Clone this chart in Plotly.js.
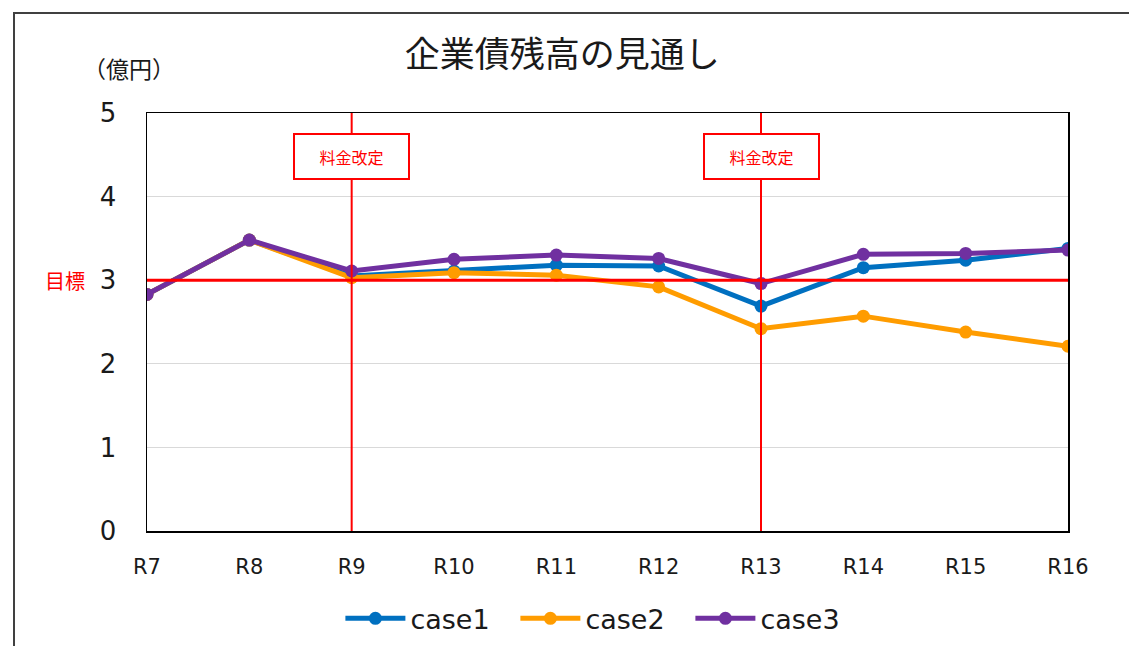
<!DOCTYPE html>
<html>
<head>
<meta charset="utf-8">
<script src="https://cdn.plot.ly/plotly-3.0.1.min.js"></script>
<style>
html,body{margin:0;padding:0;background:#fff;}
#chart{width:1129px;height:646px;}
</style>
</head>
<body>
<div id="chart"></div>
<script>
const categories = ["R7","R8","R9","R10","R11","R12","R13","R14","R15","R16"];
const case1 = [2.83,3.48,3.05,3.11,3.18,3.17,2.69,3.15,3.24,3.38];
const case2 = [2.83,3.48,3.03,3.09,3.06,2.92,2.42,2.57,2.38,2.21];
const case3 = [2.83,3.48,3.11,3.25,3.30,3.26,2.96,3.31,3.32,3.36];
const targetValue = 3;
const revisionYears = ["R9","R13"];
const yTicks = [0,1,2,3,4,5];

const font = "DejaVu Sans, Noto Sans CJK JP, sans-serif";
const cjk = "Noto Sans CJK JP, sans-serif";

function series(name, vals, color){
  return {x:categories, y:vals, name:name, type:"scatter", mode:"lines+markers",
    line:{color:color, width:5}, marker:{color:color, size:13}};
}
const traces = [
  series("case1", case1, "#0070c0"),
  series("case2", case2, "#ff9c00"),
  series("case3", case3, "#7030a0")
];

const shapes = [
  {type:"line", xref:"paper", yref:"y", x0:0, x1:1, y0:targetValue, y1:targetValue,
   line:{color:"#ff0000", width:3}, layer:"above"},
  {type:"rect", xref:"paper", yref:"paper", x0:-0.1444, x1:1.08, y0:-0.35, y1:1.2395,
   line:{color:"#404040", width:2}, fillcolor:"rgba(0,0,0,0)", layer:"below"}
];
const annotations = [
  {xref:"paper", yref:"paper", x:-0.02, y:1.108, xanchor:"center", yanchor:"middle",
   text:"（億円）", showarrow:false, font:{family:cjk, size:23, color:"#1a1a1a"}},
  {xref:"paper", yref:"y", x:-0.089, y:targetValue, xanchor:"center", yanchor:"middle",
   text:"目標", showarrow:false, font:{family:cjk, size:20, color:"#ff0000"}}
];
revisionYears.forEach(c => {
  shapes.push({type:"line", xref:"x", yref:"paper", x0:c, x1:c, y0:0, y1:1,
    line:{color:"#ff0000", width:2}, layer:"above"});
  annotations.push({xref:"x", yref:"paper", x:c, y:0.895, xanchor:"center", yanchor:"middle",
    text:"料金改定", showarrow:false,
    width:113, height:43, bgcolor:"#ffffff", bordercolor:"#ff0000", borderwidth:2, borderpad:0,
    font:{family:cjk, size:16, color:"#ff0000"}});
});

const layout = {
  width:1129, height:646,
  margin:{l:147, r:61, t:113, b:115, autoexpand:false},
  paper_bgcolor:"#ffffff", plot_bgcolor:"#ffffff",
  title:{text:"企業債残高の見通し", font:{family:cjk, size:35, color:"#1a1a1a"},
    xref:"container", yref:"container", x:0.498, y:0.915, xanchor:"center", yanchor:"middle"},
  xaxis:{type:"category", range:[0,9], showgrid:false, zeroline:false, automargin:false,
    showline:true, linecolor:"#000", linewidth:1.5, mirror:true,
    ticks:"", tickfont:{family:font, size:21, color:"#1a1a1a"}, ticklabelstandoff:16},
  yaxis:{range:[0,5], tickvals:yTicks, showgrid:true, gridcolor:"#d9d9d9", gridwidth:1.2,
    zeroline:false, showline:true, linecolor:"#000", linewidth:1.5, mirror:true, automargin:false,
    ticks:"", tickfont:{family:font, size:26, color:"#1a1a1a"}, ticklabelstandoff:24},
  showlegend:true,
  legend:{orientation:"h", x:0.495, xanchor:"center", y:-0.21, yanchor:"middle",
    font:{family:font, size:27, color:"#1a1a1a"}, itemwidth:60,
    entrywidth:100, entrywidthmode:"pixels", bgcolor:"rgba(0,0,0,0)"},
  shapes:shapes, annotations:annotations
};
Plotly.newPlot("chart", traces, layout, {displayModeBar:false, staticPlot:true});
</script>
</body>
</html>
